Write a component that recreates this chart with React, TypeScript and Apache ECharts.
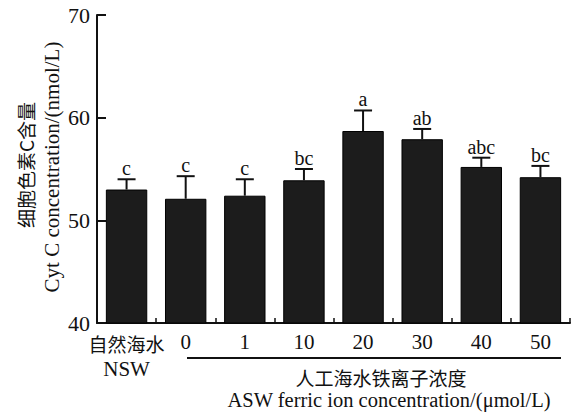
import React, { useEffect, useRef } from "react";
import * as echarts from "echarts";

const categories = ["自然海水", "0", "1", "10", "20", "30", "40", "50"];
const means = [53.0, 52.1, 52.4, 53.9, 58.7, 57.9, 55.2, 54.2];
const errTops = [54.0, 54.3, 54.0, 55.0, 60.7, 58.9, 56.1, 55.3];
const letters = ["c", "c", "c", "bc", "a", "ab", "abc", "bc"];
const yTicks = { min: 40, max: 70, interval: 10 };

const SERIF = "Liberation Serif, Times New Roman, serif";
const CJK = "Noto Sans CJK SC";

export default function App() {
  const ref = useRef<HTMLDivElement>(null);
  useEffect(() => {
    if (!ref.current) return;
    const chart = echarts.init(ref.current, null, { renderer: "svg" });
    const errData = means.map((m, i) => [i, m, errTops[i]]);
    chart.setOption({
      animation: false,
      grid: { left: 97, right: 6, top: 15, bottom: 90 },
      xAxis: {
        type: "category",
        data: categories,
        boundaryGap: true,
        axisLine: { lineStyle: { color: "#111", width: 2 } },
        axisTick: { show: true, inside: true, length: 5, lineStyle: { color: "#111", width: 1.5 } },
        axisLabel: {
          margin: 8,
          color: "#111",
          fontFamily: SERIF,
          fontSize: 21,
          interval: 0,
          formatter: (v: string, i: number) => (i === 0 ? "{cn|" + v + "}\n{en|NSW}" : v),
          rich: {
            cn: { fontFamily: CJK, fontSize: 19, color: "#111", lineHeight: 25 },
            en: { fontFamily: SERIF, fontSize: 21, color: "#111", lineHeight: 26 },
          },
        },
      },
      yAxis: {
        type: "value",
        min: yTicks.min,
        max: yTicks.max,
        interval: yTicks.interval,
        axisLine: { show: true, lineStyle: { color: "#111", width: 2 } },
        axisTick: { show: true, inside: true, length: 9, lineStyle: { color: "#111", width: 2 } },
        axisLabel: { color: "#111", fontFamily: SERIF, fontSize: 22, margin: 7 },
        splitLine: { show: false },
      },
      series: [
        {
          type: "bar",
          data: means,
          barWidth: "70%",
          itemStyle: { color: "#1c1c1c", borderColor: "#000", borderWidth: 1 },
          z: 2,
        },
        {
          type: "custom",
          data: errData,
          z: 3,
          renderItem: (params: any, api: any) => {
            const x = api.value(0);
            const lo = api.coord([x, api.value(1)]);
            const hi = api.coord([x, api.value(2)]);
            const half = 9;
            return {
              type: "group",
              children: [
                { type: "line", shape: { x1: lo[0], y1: lo[1], x2: hi[0], y2: hi[1] }, style: { stroke: "#111", lineWidth: 2 } },
                { type: "line", shape: { x1: hi[0] - half, y1: hi[1], x2: hi[0] + half, y2: hi[1] }, style: { stroke: "#111", lineWidth: 2 } },
                {
                  type: "text",
                  style: {
                    text: letters[params.dataIndex],
                    x: hi[0],
                    y: hi[1] - 1,
                    align: "center",
                    verticalAlign: "bottom",
                    fontFamily: SERIF,
                    fontSize: 20,
                    fill: "#111",
                  },
                },
              ],
            };
          },
        },
      ],
      graphic: [
        {
          type: "line",
          shape: { x1: 187, y1: 358, x2: 561, y2: 358 },
          style: { stroke: "#111", lineWidth: 2 },
        },
        {
          type: "text",
          x: 381,
          y: 377,
          style: { text: "人工海水铁离子浓度", fontFamily: CJK, fontSize: 19, fill: "#111", align: "center", verticalAlign: "middle" },
        },
        {
          type: "text",
          x: 389,
          y: 400,
          style: { text: "ASW ferric ion concentration/(μmol/L)", fontFamily: SERIF, fontSize: 20.5, fill: "#111", align: "center", verticalAlign: "middle" },
        },
        {
          type: "text",
          x: 25,
          y: 165,
          rotation: Math.PI / 2,
          style: { text: "细胞色素C含量", fontFamily: CJK, fontSize: 19, fill: "#111", align: "center", verticalAlign: "middle" },
        },
        {
          type: "text",
          x: 52,
          y: 167,
          rotation: Math.PI / 2,
          style: { text: "Cyt C concentration/(nmol/L)", fontFamily: SERIF, fontSize: 21, fill: "#111", align: "center", verticalAlign: "middle" },
        },
      ],
    });
    return () => chart.dispose();
  }, []);
  return <div ref={ref} style={{ width: 576, height: 413, position: "absolute", left: 0, top: 0 }} />;
}
